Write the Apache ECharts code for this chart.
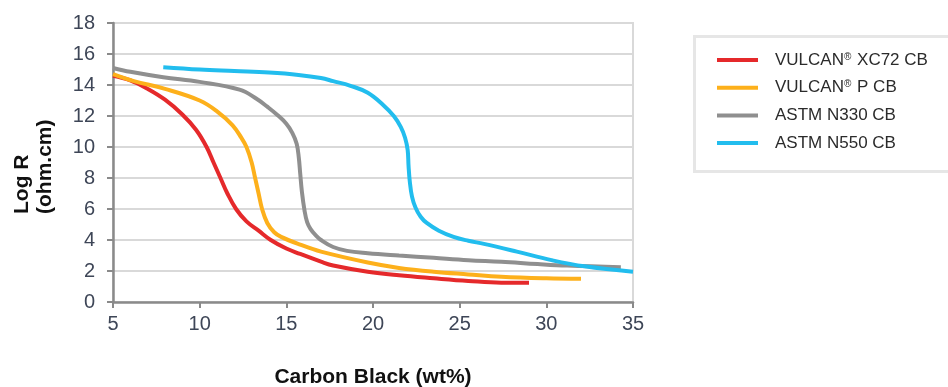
<!DOCTYPE html>
<html>
<head>
<meta charset="utf-8">
<script src="https://cdn.jsdelivr.net/npm/echarts@6/dist/echarts.min.js"></script>
<style>
html,body{margin:0;padding:0;background:#fff;}
#chart{width:948px;height:387px;}
</style>
</head>
<body>
<div id="chart"></div>
<script>
// ---- data ----
var seriesNames = ['VULCAN® XC72 CB', 'VULCAN® P CB', 'ASTM N330 CB', 'ASTM N550 CB'];
var xTicks = [5, 10, 15, 20, 25, 30, 35];
var yTicks = [0, 2, 4, 6, 8, 10, 12, 14, 16, 18];

var xc72X = [5, 6, 7, 8, 9, 9.8, 10.4, 10.8, 11.2, 11.6, 12.1, 12.7, 13.4, 14.1, 15, 15.8, 17, 17.7, 19.7, 21.5, 23.5, 25.5, 27.4, 29];
var xc72Y = [14.6, 14.3, 13.75, 13.05, 12.1, 11.1, 10, 9, 8, 7, 6, 5.2, 4.6, 4.0, 3.45, 3.1, 2.6, 2.35, 1.95, 1.72, 1.53, 1.36, 1.25, 1.25];

var pX = [5, 6.2, 8, 10, 11, 11.9, 12.4, 12.7, 13.0, 13.2, 13.4, 13.6, 13.9, 14.3, 14.7, 15.8, 17, 19.7, 21.5, 23.5, 25.5, 27.4, 30, 32];
var pY = [14.7, 14.25, 13.75, 13.0, 12.3, 11.4, 10.6, 10, 9, 8, 7, 6, 5.1, 4.5, 4.2, 3.7, 3.25, 2.55, 2.2, 1.95, 1.78, 1.63, 1.53, 1.5];

var n330X = [5, 6, 7.9, 10, 12.3, 13.3, 13.9, 14.5, 15.0, 15.35, 15.6, 15.72, 15.8, 15.9, 16.05, 16.2, 16.4, 16.7, 17, 17.7, 18.5, 19.7, 21.5, 23.5, 25.5, 27.4, 29.5, 31.2, 34.3];
var n330Y = [15.1, 14.85, 14.5, 14.2, 13.7, 13.1, 12.6, 12.05, 11.5, 10.9, 10.2, 9.3, 8.3, 7.1, 5.9, 5.15, 4.7, 4.3, 4.0, 3.55, 3.3, 3.15, 3.0, 2.85, 2.7, 2.6, 2.45, 2.35, 2.25];

var n550X = [7.9, 10, 12, 14, 15.7, 17, 17.7, 18.7, 19.7, 20.6, 21.2, 21.6, 21.85, 22.0, 22.05, 22.12, 22.25, 22.45, 22.75, 23.1, 23.8, 24.65, 25.5, 26.4, 28.3, 30.3, 32.2, 35];
var n550Y = [15.15, 15.0, 14.9, 14.8, 14.65, 14.45, 14.25, 13.95, 13.5, 12.7, 12.0, 11.3, 10.6, 9.8, 8.8, 7.8, 6.8, 6.1, 5.5, 5.1, 4.6, 4.2, 3.95, 3.75, 3.25, 2.7, 2.3, 1.95];

var colors = ['#e5292b', '#fdb01b', '#8f8f8f', '#22bdee'];

function pairs(xs, ys) { return xs.map(function (x, i) { return [x, ys[i]]; }); }
var allData = [pairs(xc72X, xc72Y), pairs(pX, pY), pairs(n330X, n330Y), pairs(n550X, n550Y)];

var chart = echarts.init(document.getElementById('chart'), null, {renderer: 'canvas'});
var FONT = '"Liberation Sans", Arial, sans-serif';

var option = {
  animation: false,
  backgroundColor: '#fff',
  color: colors,
  grid: {
    left: 113, right: 315, top: 23, bottom: 85,
    containLabel: false, outerBoundsMode: 'none',
    show: true, borderColor: '#d9d9d9', borderWidth: 2
  },
  xAxis: {
    type: 'value', min: xTicks[0], max: xTicks[xTicks.length - 1], interval: 5,
    name: 'Carbon Black (wt%)', nameLocation: 'middle', nameGap: 65,
    nameTextStyle: {fontFamily: FONT, fontWeight: 'bold', fontSize: 21, color: '#111'},
    axisLine: {show: true, lineStyle: {color: '#8a8a8a', width: 2.5}},
    axisTick: {show: true, length: 6, lineStyle: {color: '#8a8a8a', width: 2}},
    axisLabel: {fontFamily: FONT, fontSize: 20, color: '#3e4657', margin: 12},
    splitLine: {show: false}
  },
  yAxis: {
    type: 'value', min: yTicks[0], max: yTicks[yTicks.length - 1], interval: 2,
    axisLine: {show: true, lineStyle: {color: '#8a8a8a', width: 2.5}},
    axisTick: {show: true, length: 6, lineStyle: {color: '#8a8a8a', width: 2}},
    axisLabel: {fontFamily: FONT, fontSize: 20, color: '#3e4657', margin: 18},
    splitLine: {show: true, lineStyle: {color: '#d9d9d9', width: 2}}
  },
  legend: {
    orient: 'vertical', left: 717, top: 51, padding: 0,
    itemWidth: 41, itemHeight: 4, itemGap: 9.7, icon: 'rect',
    data: seriesNames,
    formatter: function (name) { return name.replace('®', '{r|®}'); },
    textStyle: {
      fontFamily: FONT, fontSize: 17, color: '#2b2b2b', lineHeight: 18,
      padding: [0, 0, 0, 12],
      rich: {r: {fontFamily: FONT, fontSize: 10, color: '#2b2b2b', padding: [0, 1, 6, 0]}}
    }
  },
  graphic: [
    {
      type: 'rect', z: 0, silent: true,
      shape: {x: 694.5, y: 36.5, width: 280, height: 135},
      style: {fill: 'none', stroke: '#e6e6e6', lineWidth: 3}
    },
    {
      type: 'text', x: 11, y: 214, rotation: Math.PI / 2,
      style: {
        text: 'Log R\n(ohm.cm)', font: 'bold 21px ' + FONT, fill: '#111',
        align: 'left', verticalAlign: 'top', lineHeight: 23
      }
    }
  ],
  series: seriesNames.map(function (name, i) {
    return {
      name: name, type: 'line', data: allData[i],
      showSymbol: false, symbol: 'none', smooth: 0.4,
      lineStyle: {width: 4, color: colors[i]},
      itemStyle: {color: colors[i]}
    };
  })
};
chart.setOption(option);
</script>
</body>
</html>
